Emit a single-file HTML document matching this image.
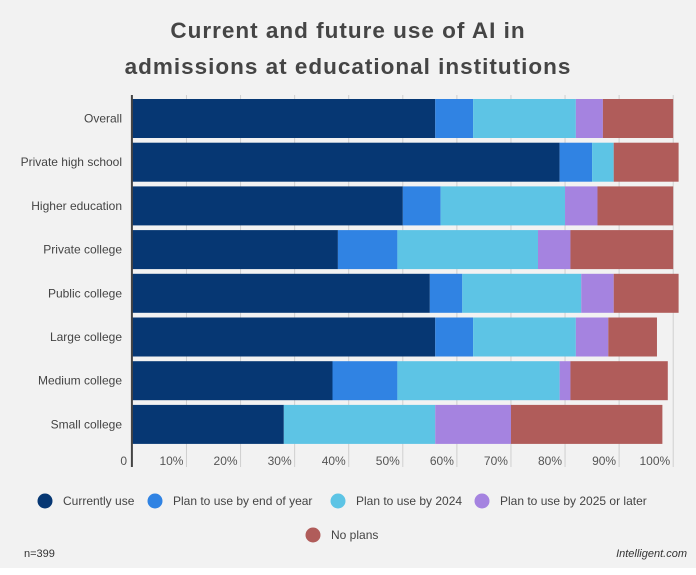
<!DOCTYPE html>
<html><head><meta charset="utf-8">
<style>
html,body{margin:0;padding:0;background:#fff;}
#wrap{position:relative;width:696px;height:575px;background:#fff;font-family:"Liberation Sans",sans-serif;}
svg{position:absolute;left:0;top:0;}
</style></head>
<body>
<div id="wrap">
<svg id="chart" width="696" height="575">
  <rect x="0" y="0" width="696" height="568" fill="#f2f2f2"/>
  <text x="348" y="38" text-anchor="middle" font-size="22.5" font-weight="bold" letter-spacing="1" fill="#454545">Current and future use of AI in</text>
  <text x="348" y="74" text-anchor="middle" font-size="22.5" font-weight="bold" letter-spacing="1" fill="#454545">admissions at educational institutions</text>
  <g id="grid"></g>
  <g id="bars"></g>
  <g id="labels"></g>
  <g id="legend"></g>
  <text x="24" y="557" font-size="11" fill="#333">n=399</text>
  <text x="687" y="557" font-size="11" font-style="italic" fill="#333" text-anchor="end">Intelligent.com</text>
</svg>
</div>
<script>
const categories = ["Overall","Private high school","Higher education","Private college","Public college","Large college","Medium college","Small college"];
const seriesNames = ["Currently use","Plan to use by end of year","Plan to use by 2024","Plan to use by 2025 or later","No plans"];
const currentlyUse = [56,79,50,38,55,56,37,28];
const endOfYear = [7,6,7,11,6,7,12,0];
const by2024 = [19,4,23,26,22,19,30,28];
const by2025 = [5,0,6,6,6,6,2,14];
const noPlans = [13,12,14,19,12,9,18,28];
const tickValues = [10,20,30,40,50,60,70,80,90,100];
const tickLabels = ["10%","20%","30%","40%","50%","60%","70%","80%","90%","100%"];
const colors = ["#063773","#3083e3","#5dc4e5","#a583e0","#b05c5a"];

const NS="http://www.w3.org/2000/svg";
const x0=132.4, pxPer=5.408, rowTop=99, rowStep=43.7, barH=39, axisTop=95, axisBottom=467;
const xs = v => x0 + v*pxPer;
const yRow = i => rowTop + i*rowStep;
function mk(tag, attrs, parent){const e=document.createElementNS(NS,tag);for(const k in attrs)e.setAttribute(k,attrs[k]);parent.appendChild(e);return e;}

const grid=document.getElementById('grid');
tickValues.forEach((v,i)=>{
  const l=mk('line',{x1:xs(v),x2:xs(v),y1:axisTop,y2:axisBottom,stroke:'#cfcfcf','stroke-width':1},grid);
  
  
  const t=mk('text',{x:xs(v)-3,y:465,'text-anchor':'end','font-size':12,fill:'#555'},grid);
  t.textContent=tickLabels[i];
  
  
});
const z=mk('text',{x:127,y:465,'text-anchor':'end','font-size':12,fill:'#555'},grid);
z.textContent="0";



const series=[currentlyUse,endOfYear,by2024,by2025,noPlans];
const bars=document.getElementById('bars');
const labels=document.getElementById('labels');
categories.forEach((c,i)=>{
  let acc=0;
  series.forEach((s,k)=>{
    const v=s[i];
    if(v>0){
      const r=mk('rect',{x:xs(acc),y:yRow(i),width:v*pxPer,height:barH,fill:colors[k]},bars);
      
      
    }
    acc+=v;
  });
  const t=mk('text',{x:122,y:yRow(i)+barH/2+4,'text-anchor':'end','font-size':12,fill:'#444'},labels);
  t.textContent=c;
  
  
});
const ax=mk('line',{x1:x0-0.5,x2:x0-0.5,y1:axisTop,y2:axisBottom,stroke:'#444','stroke-width':2},labels);



const legend=document.getElementById('legend');
const legPos=[[45,505],[155,505],[338,505],[482,505],[313,539]];
seriesNames.forEach((n,k)=>{
  const g=mk('g',{},legend);
  
  
  mk('circle',{cx:legPos[k][0],cy:legPos[k][1]-4,r:7.5,fill:colors[k]},g);
  const t=mk('text',{x:legPos[k][0]+18,y:legPos[k][1],'font-size':12,fill:'#444'},g);
  t.textContent=n;
});
</script>
</body></html>
